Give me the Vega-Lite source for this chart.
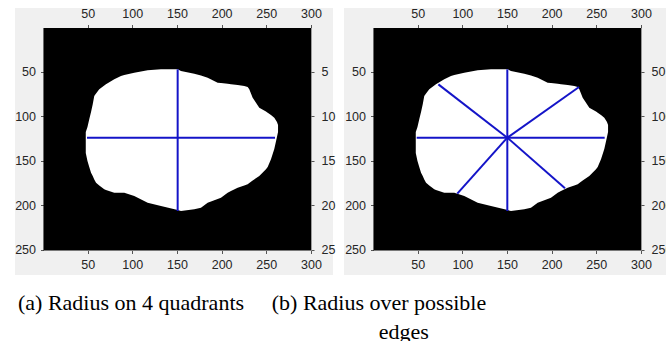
{
  "$schema": "https://vega.github.io/schema/vega-lite/v6.json",
  "background": "white",
  "padding": {"left": 14, "top": 7, "right": 0, "bottom": 0},
  "title": {"text": "edges", "orient": "bottom", "anchor": "start", "frame": "bounds", "dx": 364, "offset": 8},
  "config": {
    "view": {"fill": "#f0f0f0", "stroke": null},
    "axis": {"domain": false, "grid": false, "ticks": true, "tickColor": "#555555", "tickSize": 3, "tickWidth": 1, "labelColor": "#262626", "labelFont": "Liberation Sans", "labelFontSize": 12.5, "labelFlush": false, "labelOverlap": false, "labelPadding": 4},
    "title": {"font": "Liberation Serif", "fontSize": 22, "fontWeight": "normal", "color": "black", "lineHeight": 29}
  },
  "datasets": {
    "image": [{"x0": 0.5, "x1": 300.5, "y0": 0.5, "y1": 250.5}],
    "blob": [
      {"x": 47.9, "top": 117.4, "bottom": 141.0},
      {"x": 49.8, "top": 111.8, "bottom": 150.0},
      {"x": 51.8, "top": 103.1, "bottom": 156.7},
      {"x": 53.8, "top": 94.9, "bottom": 163.1},
      {"x": 55.7, "top": 86.3, "bottom": 166.9},
      {"x": 57.4, "top": 77.0, "bottom": 170.8},
      {"x": 59.4, "top": 74.2, "bottom": 174.4},
      {"x": 63.0, "top": 69.4, "bottom": 177.5},
      {"x": 68.6, "top": 65.2, "bottom": 181.8},
      {"x": 70.5, "top": 63.8, "bottom": 182.6},
      {"x": 79.8, "top": 58.2, "bottom": 185.6},
      {"x": 87.3, "top": 54.5, "bottom": 185.6},
      {"x": 91.0, "top": 53.4, "bottom": 185.6},
      {"x": 102.2, "top": 50.8, "bottom": 189.3},
      {"x": 117.2, "top": 48.1, "bottom": 196.9},
      {"x": 132.1, "top": 47.0, "bottom": 200.6},
      {"x": 150.8, "top": 47.0, "bottom": 205.1},
      {"x": 154.5, "top": 48.9, "bottom": 206.2},
      {"x": 169.4, "top": 51.9, "bottom": 204.3},
      {"x": 176.9, "top": 53.9, "bottom": 202.5},
      {"x": 184.4, "top": 56.4, "bottom": 196.9},
      {"x": 195.6, "top": 62.0, "bottom": 192.7},
      {"x": 199.3, "top": 62.4, "bottom": 191.2},
      {"x": 206.8, "top": 63.3, "bottom": 185.6},
      {"x": 210.5, "top": 63.8, "bottom": 183.7},
      {"x": 218.0, "top": 64.6, "bottom": 180.0},
      {"x": 225.4, "top": 65.7, "bottom": 177.5},
      {"x": 229.2, "top": 66.9, "bottom": 176.2},
      {"x": 231.0, "top": 69.4, "bottom": 174.7},
      {"x": 234.8, "top": 78.9, "bottom": 171.9},
      {"x": 242.2, "top": 90.1, "bottom": 166.9},
      {"x": 249.7, "top": 94.4, "bottom": 159.3},
      {"x": 251.6, "top": 95.7, "bottom": 156.7},
      {"x": 255.3, "top": 98.3, "bottom": 148.1},
      {"x": 259.0, "top": 101.3, "bottom": 136.5},
      {"x": 262.0, "top": 106.2, "bottom": 123.0},
      {"x": 263.2, "top": 109.6, "bottom": 117.4}
    ],
    "segments": [
      {"panel": "a", "x1": 49.3, "y1": 123.8, "x2": 259.8, "y2": 123.8},
      {"panel": "a", "x1": 150.8, "y1": 47.0, "x2": 150.8, "y2": 206.2},
      {"panel": "b", "x1": 150.4, "y1": 123.8, "x2": 73.2, "y2": 63.9},
      {"panel": "b", "x1": 150.4, "y1": 123.8, "x2": 150.4, "y2": 47.0},
      {"panel": "b", "x1": 150.4, "y1": 123.8, "x2": 230.7, "y2": 66.9},
      {"panel": "b", "x1": 150.4, "y1": 123.8, "x2": 259.4, "y2": 123.8},
      {"panel": "b", "x1": 150.4, "y1": 123.8, "x2": 215.0, "y2": 180.7},
      {"panel": "b", "x1": 150.4, "y1": 123.8, "x2": 150.4, "y2": 206.2},
      {"panel": "b", "x1": 150.4, "y1": 123.8, "x2": 94.4, "y2": 186.7},
      {"panel": "b", "x1": 150.4, "y1": 123.8, "x2": 48.9, "y2": 123.8}
    ]
  },
  "spacing": 11,
  "bounds": "flush",
  "hconcat": [
    {
      "width": 318,
      "height": 267,
      "title": {"text": "(a) Radius on 4 quadrants", "orient": "bottom", "anchor": "start", "frame": "group", "dx": 3, "offset": 18},
      "layer": [
        {
          "data": {"name": "image"},
          "mark": {"type": "rect", "color": "black"},
          "encoding": {
            "x": {"field": "x0", "type": "quantitative", "scale": {"domain": [-31.35, 324.75], "nice": false, "zero": false}, "axis": {"orient": "top", "offset": -19.5, "values": [50, 100, 150, 200, 250, 300], "title": null}},
            "x2": {"field": "x1"},
            "y": {"field": "y0", "type": "quantitative", "scale": {"domain": [-21.9, 278.1], "reverse": true, "nice": false, "zero": false}, "axis": {"orient": "left", "offset": -28.5, "values": [50, 100, 150, 200, 250], "title": null, "labelPadding": 5}},
            "y2": {"field": "y1"}
          }
        },
        {
          "data": {"name": "blob"},
          "mark": {"type": "area", "color": "white", "opacity": 1},
          "encoding": {
            "x": {"field": "x", "type": "quantitative", "axis": {"orient": "bottom", "offset": -24.5, "values": [50, 100, 150, 200, 250, 300], "title": null, "labelPadding": 5}},
            "y": {"field": "top", "type": "quantitative", "axis": {"orient": "right", "offset": -22, "values": [50, 100, 150, 200, 250], "title": null, "labelPadding": 7, "labelExpr": "substring(datum.label, 0, length(datum.label) - 1)"}},
            "y2": {"field": "bottom"}
          }
        },
        {
          "data": {"name": "segments"},
          "transform": [{"filter": "datum.panel == 'a'"}],
          "mark": {"type": "rule", "color": "#1414c8", "strokeWidth": 2},
          "encoding": {
            "x": {"field": "x1", "type": "quantitative", "axis": null},
            "y": {"field": "y1", "type": "quantitative", "axis": null},
            "x2": {"field": "x2"},
            "y2": {"field": "y2"}
          }
        }
      ],
      "resolve": {"axis": {"x": "independent", "y": "independent"}}
    },
    {
      "width": 323,
      "height": 267,
      "title": {"text": "(b) Radius over possible", "orient": "bottom", "anchor": "middle", "frame": "group", "dx": -126.5, "offset": 18},
      "layer": [
        {
          "data": {"name": "image"},
          "mark": {"type": "rect", "color": "black"},
          "encoding": {
            "x": {"field": "x0", "type": "quantitative", "scale": {"domain": [-32.47, 329.2], "nice": false, "zero": false}, "axis": {"orient": "top", "offset": -19.5, "values": [50, 100, 150, 200, 250, 300], "title": null}},
            "x2": {"field": "x1"},
            "y": {"field": "y0", "type": "quantitative", "scale": {"domain": [-21.9, 278.1], "reverse": true, "nice": false, "zero": false}, "axis": {"orient": "left", "offset": -29.5, "values": [50, 100, 150, 200, 250], "title": null, "labelPadding": 5}},
            "y2": {"field": "y1"}
          }
        },
        {
          "data": {"name": "blob"},
          "mark": {"type": "area", "color": "white", "opacity": 1},
          "encoding": {
            "x": {"field": "x", "type": "quantitative", "axis": {"orient": "bottom", "offset": -24.5, "values": [50, 100, 150, 200, 250, 300], "title": null, "labelPadding": 5}},
            "y": {"field": "top", "type": "quantitative", "axis": {"orient": "right", "offset": -26, "values": [50, 100, 150, 200, 250], "title": null, "labelPadding": 7}},
            "y2": {"field": "bottom"}
          }
        },
        {
          "data": {"name": "segments"},
          "transform": [{"filter": "datum.panel == 'b'"}],
          "mark": {"type": "rule", "color": "#1414c8", "strokeWidth": 2},
          "encoding": {
            "x": {"field": "x1", "type": "quantitative", "axis": null},
            "y": {"field": "y1", "type": "quantitative", "axis": null},
            "x2": {"field": "x2"},
            "y2": {"field": "y2"}
          }
        }
      ],
      "resolve": {"axis": {"x": "independent", "y": "independent"}}
    }
  ]
}
